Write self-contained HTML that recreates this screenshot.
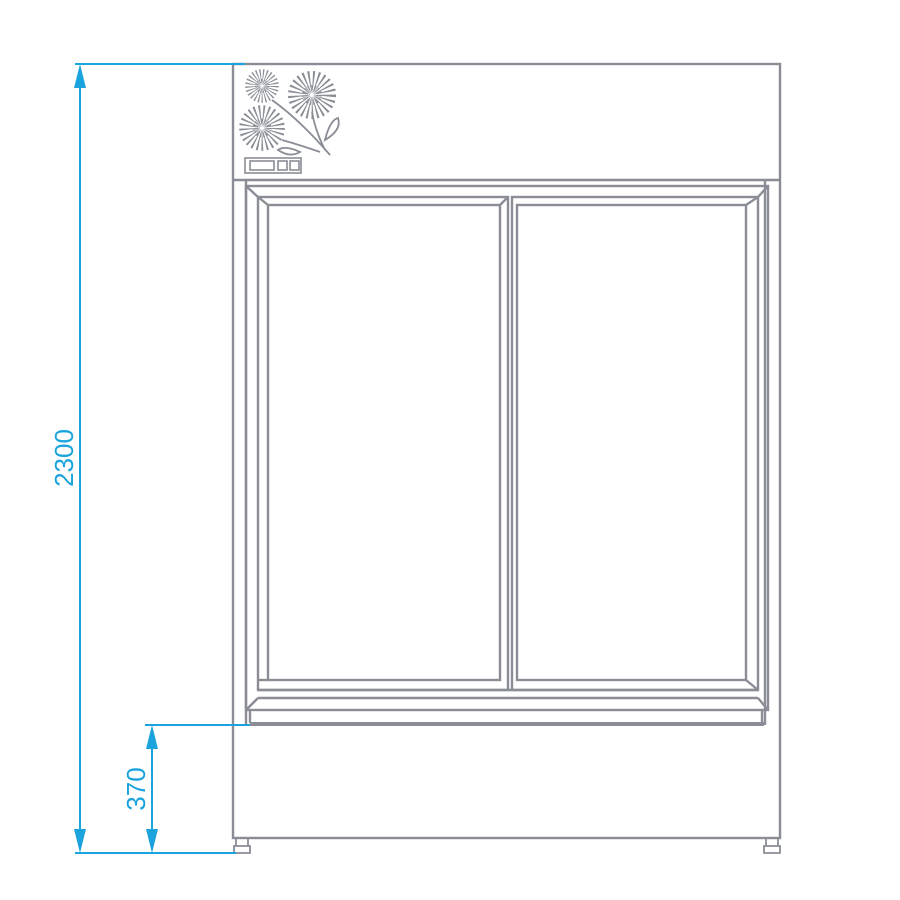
<!DOCTYPE html>
<html><head><style>body{margin:0;background:#fff}svg{display:block}</style></head><body>
<svg width="900" height="900" viewBox="0 0 900 900" xmlns="http://www.w3.org/2000/svg">
<defs>
<g id="fl">
<circle r="14" fill="none" stroke="#8a8d96" stroke-width="20" stroke-dasharray="1.3 2.2"/>
<circle r="6" fill="none" stroke="#8a8d96" stroke-width="8" stroke-dasharray="1 1.5"/>
</g>
</defs>
<g fill="none" stroke="#8a8d96" stroke-width="2.4">
<rect x="233" y="64" width="547" height="774"/>
<line x1="233" y1="180" x2="780" y2="180"/>
<line x1="246" y1="180" x2="246" y2="725"/>
<line x1="765" y1="180" x2="765" y2="725"/>
<rect x="246" y="186" width="522" height="524"/>
<line x1="246" y1="186" x2="258" y2="197"/><line x1="768" y1="186" x2="758" y2="197"/>
<line x1="246" y1="710" x2="258" y2="698"/><line x1="768" y1="710" x2="758" y2="698"/>
<rect x="258" y="197" width="250" height="493"/>
<rect x="268" y="205" width="232" height="475"/>
<line x1="258" y1="197" x2="268" y2="205"/><line x1="508" y1="197" x2="500" y2="205"/>
<line x1="258" y1="680" x2="268" y2="680"/>
<rect x="512" y="197" width="246" height="493"/>
<rect x="517" y="205" width="229" height="475"/>
<line x1="758" y1="197" x2="746" y2="205"/><line x1="746" y1="680" x2="758" y2="690"/>
<line x1="258" y1="690" x2="758" y2="690"/>
<line x1="258" y1="698" x2="758" y2="698"/>
<line x1="250" y1="710" x2="250" y2="723"/><line x1="762" y1="710" x2="762" y2="723"/>
<rect x="245" y="158" width="56" height="15" stroke-width="1.6"/>
<rect x="250" y="161" width="24" height="9" stroke-width="1.6"/>
<rect x="278" y="161" width="9" height="9" stroke-width="1.6"/>
<rect x="290" y="161" width="9" height="9" stroke-width="1.6"/>
<path d="M272 100 Q300 120 330 155 M312 112 Q315 130 325 150 M282 140 Q300 145 320 152" stroke-width="1.8"/>
<path d="M325 140 Q330 120 338 118 Q342 130 325 140Z M300 152 Q285 145 278 150 Q290 158 300 152Z" stroke-width="1.8"/>
<path d="M236 838 h12 v8 h-12z M234 846 h16 v7 h-16z M766 838 h12 v8 h-12z M764 846 h16 v7 h-16z" stroke-width="1.8"/>
</g>
<line x1="250" y1="724" x2="764" y2="724" stroke="#8a8d96" stroke-width="4"/>
<use href="#fl" transform="translate(262 86) scale(0.7)"/>
<use href="#fl" transform="translate(312 95)"/>
<use href="#fl" transform="translate(262 128) scale(0.95)"/>
<g stroke="#1aa3dc" stroke-width="2" fill="#1aa3dc">
<line x1="75" y1="64" x2="245" y2="64"/>
<line x1="75" y1="853" x2="236" y2="853"/>
<line x1="80" y1="70" x2="80" y2="847"/>
<path d="M80 64 l-6 24 h12z M80 853 l-6 -24 h12z" stroke="none"/>
<line x1="145" y1="725" x2="250" y2="725"/>
<line x1="152" y1="731" x2="152" y2="847"/>
<path d="M152 725 l-6 24 h12z M152 853 l-6 -24 h12z" stroke="none"/>
</g>
<g fill="#1aa3dc" font-family="Liberation Sans, sans-serif" font-size="26">
<text transform="translate(73 458) rotate(-90)" text-anchor="middle">2300</text>
<text transform="translate(145 789) rotate(-90)" text-anchor="middle">370</text>
</g>
</svg>
</body></html>
